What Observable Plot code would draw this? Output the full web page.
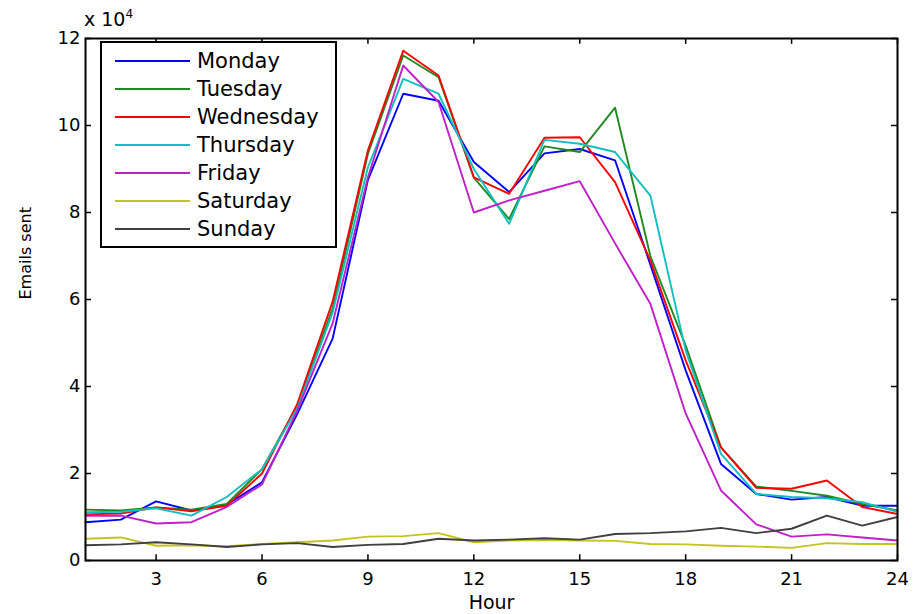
<!DOCTYPE html>
<html>
<head>
<meta charset="utf-8">
<script src="https://cdn.jsdelivr.net/npm/d3@7"></script>
<script src="https://cdn.jsdelivr.net/npm/@observablehq/plot@0.6"></script>
<style>
  html, body { margin: 0; padding: 0; background: #fff; }
  #wrap { position: relative; width: 913px; height: 614px; overflow: hidden; font-family: "DejaVu Sans", sans-serif; }
  #expo { position: absolute; left: 84px; top: 8px; font-size: 19px; color: #000; }
  #expo sup { font-size: 12px; vertical-align: 0; position: relative; top: -8px; }
  #legend { position: absolute; left: 100px; top: 41px; width: 233px; height: 203px; border: 2px solid #000; background: #fff; }
  .row { position: absolute; left: 0; height: 24px; width: 100%; }
  .sw { position: absolute; left: 13px; width: 75px; top: 11px; height: 0; border-top: 2px solid; }
  .lab { position: absolute; left: 95px; top: 0; line-height: 24px; font-size: 21px; color: #000; }
</style>
</head>
<body>
<div id="wrap">
  <div id="chart"></div>
  <div id="expo">x 10<sup>4</sup></div>
  <div id="legend"></div>
</div>
<script>
const hours = d3.range(1, 25);
const days = ["Monday", "Tuesday", "Wednesday", "Thursday", "Friday", "Saturday", "Sunday"];
const colors = ["#0000ff", "#1f8a1f", "#ff0000", "#10c0c0", "#c020c8", "#c4c420", "#404040"];

const monday    = [8800, 9400, 13600, 11500, 12800, 18000, 33700, 51000, 87500, 107300, 105700, 91600, 84700, 93600, 94600, 92000, 68000, 43700, 22200, 15300, 14000, 14600, 12600, 12600];
const tuesday   = [11700, 11500, 12200, 11700, 13000, 21000, 35500, 58000, 93500, 116100, 111100, 88000, 78500, 95200, 93900, 104100, 70000, 49400, 26000, 17000, 16000, 14900, 13000, 11500];
const wednesday = [10600, 10800, 12200, 11300, 12600, 20000, 36000, 59500, 94300, 117200, 111500, 88100, 84300, 97200, 97300, 87000, 69000, 46000, 26000, 16700, 16500, 18400, 12300, 10700];
const thursday  = [11100, 11200, 12000, 10300, 14600, 21000, 35000, 57000, 90400, 110700, 107300, 90000, 77400, 96700, 95800, 93900, 83900, 48300, 24500, 15300, 14600, 14300, 13400, 11200];
const friday    = [10300, 10300, 8500, 8800, 12300, 17500, 34500, 54500, 88100, 113800, 105400, 80000, 82800, 85000, 87200, 72900, 59000, 33800, 16100, 8300, 5500, 6000, 5300, 4600];
const saturday  = [5000, 5300, 3400, 3500, 3300, 3800, 4200, 4600, 5500, 5600, 6300, 4200, 4600, 4700, 4600, 4500, 3800, 3700, 3400, 3200, 2900, 4000, 3800, 3800];
const sunday    = [3500, 3700, 4200, 3700, 3100, 3700, 4000, 3100, 3600, 3800, 5000, 4600, 4800, 5100, 4800, 6100, 6300, 6700, 7500, 6300, 7300, 10300, 8000, 10000];

const xTicks = [3, 6, 9, 12, 15, 18, 21, 24];
const yTicks = [0, 20000, 40000, 60000, 80000, 100000, 120000];
const xDomain = [1, 24];
const yDomain = [0, 120000];

const series = [monday, tuesday, wednesday, thursday, friday, saturday, sunday];
const table = [];
days.forEach((day, i) => hours.forEach((h, j) => table.push({day, hour: h, emails: series[i][j]})));

const fmt = d => String(d / 1e4);
// inward tick length expressed in scale units (~6px)
const tyLen = 1350, txLen = 0.17;

const chart = Plot.plot({
  width: 913,
  height: 614,
  marginLeft: 85,
  marginRight: 16,
  marginTop: 38,
  marginBottom: 54,
  style: {fontFamily: "DejaVu Sans, sans-serif", fontSize: "18px", color: "#000", background: "#fff"},
  x: {domain: xDomain},
  y: {domain: yDomain},
  color: {domain: days, range: colors},
  marks: [
    Plot.lineY(table, {x: "hour", y: "emails", stroke: "day", strokeWidth: 1.9}),
    Plot.axisX(xTicks, {anchor: "bottom", tickSize: 0, tickPadding: 12, label: null, fontSize: 18}),
    Plot.axisY(yTicks, {anchor: "left", tickSize: 0, tickPadding: 5, label: null, tickFormat: fmt, fontSize: 18}),
    Plot.ruleX(xTicks, {x: d => d, y1: yDomain[0], y2: yDomain[0] + tyLen, stroke: "#000", strokeWidth: 1.5}),
    Plot.ruleX(xTicks, {x: d => d, y1: yDomain[1], y2: yDomain[1] - tyLen, stroke: "#000", strokeWidth: 1.5}),
    Plot.ruleY(yTicks, {y: d => d, x1: xDomain[0], x2: xDomain[0] + txLen, stroke: "#000", strokeWidth: 1.5}),
    Plot.ruleY(yTicks, {y: d => d, x1: xDomain[1], x2: xDomain[1] - txLen, stroke: "#000", strokeWidth: 1.5}),
    Plot.frame({stroke: "#000", strokeWidth: 2}),
    Plot.text(["Hour"], {frameAnchor: "bottom", dy: 48, fontSize: 19}),
    Plot.text(["Emails sent"], {frameAnchor: "left", dx: -60, rotate: -90, fontSize: 16})
  ]
});
document.getElementById("chart").appendChild(chart);

const legend = document.getElementById("legend");
days.forEach((day, i) => {
  const row = document.createElement("div");
  row.className = "row";
  row.style.top = (6 + i * 28) + "px";
  const sw = document.createElement("div");
  sw.className = "sw";
  sw.style.borderTopColor = colors[i];
  const lab = document.createElement("div");
  lab.className = "lab";
  lab.textContent = day;
  row.appendChild(sw);
  row.appendChild(lab);
  legend.appendChild(row);
});
</script>
</body>
</html>
